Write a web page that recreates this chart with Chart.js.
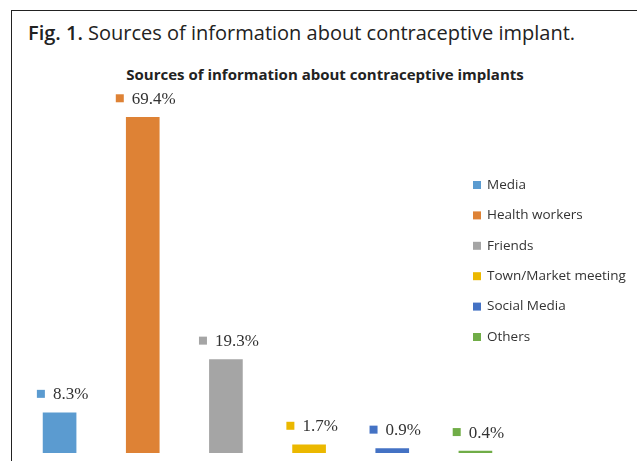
<!DOCTYPE html>
<html>
<head>
<meta charset="utf-8">
<script src="https://cdn.jsdelivr.net/npm/chart.js@4.4.0/dist/chart.umd.min.js"></script>
<style>
html,body{margin:0;padding:0;background:#fff}
#wrap{position:relative;width:637px;height:461px;overflow:hidden}
#frame{position:absolute;left:11px;top:10px;width:700px;height:500px;border-top:1px solid #222;border-left:1px solid #222}
#fig{position:absolute;left:28px;top:19px;font:20px "Open Sans",sans-serif;color:#222;white-space:nowrap}
#fig b{font-weight:600}
#ttl{position:absolute;left:0;width:650px;top:64px;text-align:center;font:bold 15px "Open Sans",sans-serif;color:#222;white-space:nowrap}
#c{position:absolute;left:0;top:0}
</style>
</head>
<body>
<div id="wrap">
<div id="frame"></div>
<div id="fig"><b>Fig. 1.</b> Sources of information about contraceptive implant.</div>
<div id="ttl">Sources of information about contraceptive implants</div>
<canvas id="c" width="637" height="461"></canvas>
</div>
<script>
const sources=["Media","Health workers","Friends","Town/Market meeting","Social Media","Others"]
const percents=[8.3,69.4,19.3,1.7,0.9,0.4]
const colors=["#5b9bd0","#de8235","#a5a5a5","#ebb800","#4472c4","#70ad47"]

const labelsPlugin={
id:"labels",
afterDatasetsDraw(chart){
const ctx=chart.ctx
const meta=chart.getDatasetMeta(0)
ctx.save()
ctx.textBaseline="middle"
// value labels with key squares
meta.data.forEach((bar,i)=>{
const txt=percents[i].toFixed(1)+"%"
ctx.font="17px 'Liberation Serif',serif"
const w=ctx.measureText(txt).width
const gx=bar.x+3-(16+w)/2
const cy=bar.y-18
ctx.fillStyle=colors[i]
ctx.fillRect(gx,cy-5,8,8)
ctx.fillStyle="#333"
ctx.textAlign="left"
ctx.fillText(txt,gx+16,cy)
})
// legend
ctx.font="13.5px 'Open Sans',sans-serif"
sources.forEach((s,i)=>{
const y=185+i*30.4
ctx.fillStyle=colors[i]
ctx.fillRect(473,y-4,8,8)
ctx.fillStyle="#333"
ctx.fillText(s,487,y)
})
ctx.restore()
}
}

new Chart(document.getElementById("c"),{
type:"bar",
data:{labels:sources,datasets:[{data:percents,backgroundColor:colors,barThickness:33}]},
options:{
responsive:false,
animation:false,
layout:{padding:{left:18,right:120,top:66,bottom:8}},
plugins:{legend:{display:false},tooltip:{enabled:false}},
scales:{
x:{display:false},
y:{display:false,min:0,max:80}
}
},
plugins:[labelsPlugin]
})
</script>
</body>
</html>
